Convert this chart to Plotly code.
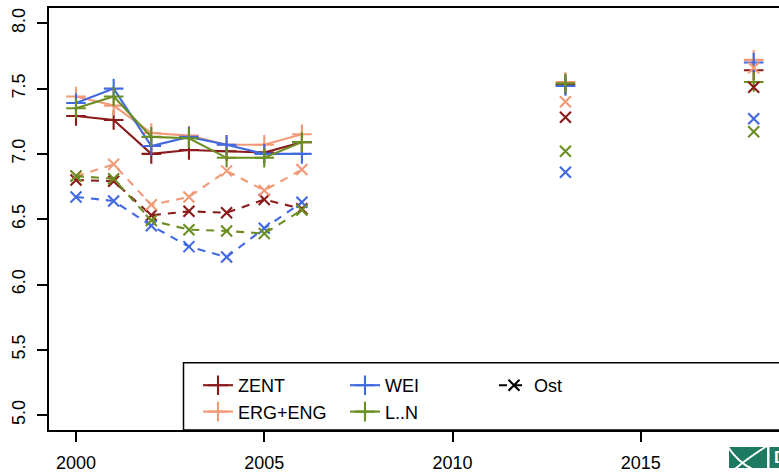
import plotly.graph_objects as go

# ---------------- data ----------------
years = list(range(2000, 2019))
early_years = [2000, 2001, 2002, 2003, 2004, 2005, 2006]
late_years = [2013, 2018]

series_names = ["ZENT", "ERG+ENG", "WEI", "L..N"]
series_colors = ["#8B1A1A", "#F29A78", "#4169E1", "#6B8E23"]

# West (solid line, "+" markers)
zent_west = [7.29, 7.26, 7.00, 7.03, 7.02, 7.01, 7.09]
erg_west = [7.44, 7.37, 7.16, 7.14, 7.07, 7.07, 7.15]
wei_west = [7.39, 7.50, 7.06, 7.13, 7.07, 7.00, 7.00]
ln_west = [7.35, 7.44, 7.13, 7.12, 6.97, 6.97, 7.09]
zent_west_late = [7.53, 7.64]
erg_west_late = [7.55, 7.72]
wei_west_late = [7.52, 7.70]
ln_west_late = [7.54, 7.55]

# Ost (dashed line, "x" markers)
zent_ost = [6.80, 6.79, 6.53, 6.56, 6.55, 6.65, 6.58]
erg_ost = [6.83, 6.92, 6.61, 6.67, 6.87, 6.72, 6.88]
wei_ost = [6.67, 6.64, 6.45, 6.29, 6.21, 6.43, 6.63]
ln_ost = [6.83, 6.81, 6.49, 6.42, 6.41, 6.39, 6.57]
zent_ost_late = [7.28, 7.51]
erg_ost_late = [7.40, 7.66]
wei_ost_late = [6.86, 7.27]
ln_ost_late = [7.02, 7.17]

west = [(zent_west, zent_west_late), (erg_west, erg_west_late),
        (wei_west, wei_west_late), (ln_west, ln_west_late)]
ost = [(zent_ost, zent_ost_late), (erg_ost, erg_ost_late),
       (wei_ost, wei_ost_late), (ln_ost, ln_ost_late)]

x_ticks = [2000, 2005, 2010, 2015]
y_ticks = [5.0, 5.5, 6.0, 6.5, 7.0, 7.5, 8.0]


def full(early, late):
    d = dict(zip(early_years, early))
    d.update(zip(late_years, late))
    return [d.get(y) for y in years]


FONT = "Liberation Sans, Arial, sans-serif"
W, H = 779, 472
ML, MR, MT, MB = 49, 0, 8, 42
PW, PH = W - ML - MR, H - MT - MB


def px_x(p):
    return (p - ML) / PW


def px_y(p):
    return (H - MB - p) / PH


fig = go.Figure()

legend_of = {"ZENT": "legend", "ERG+ENG": "legend", "WEI": "legend2", "L..N": "legend2"}

for name, color, (e, l) in zip(series_names, series_colors, west):
    fig.add_trace(go.Scatter(
        x=years, y=full(e, l), mode="lines+markers", name=name,
        line=dict(color=color, width=2.1),
        marker=dict(symbol="cross-thin", size=14, line=dict(color=color, width=2.1)),
        connectgaps=False, legend=legend_of[name], cliponaxis=False))

for name, color, (e, l) in zip(series_names, series_colors, ost):
    fig.add_trace(go.Scatter(
        x=years, y=full(e, l), mode="lines+markers", name=name + " Ost",
        line=dict(color=color, width=2.1, dash="8px,7px"),
        marker=dict(symbol="x-thin", size=11, line=dict(color=color, width=2.1)),
        connectgaps=False, showlegend=False, cliponaxis=False))

# legend-only entry for the Ost line style
fig.add_trace(go.Scatter(
    x=[None], y=[None], mode="lines+markers", name="Ost",
    line=dict(color="black", width=2.1, dash="8px,7px"),
    marker=dict(symbol="x-thin", size=11, line=dict(color="black", width=2.1)),
    legend="legend3"))

x0 = 2000 - (76 - ML) / 37.65
x1 = 2000 + (W - MR - 76) / 37.65
y1 = 8 + (23.3 - MT) / 130.6
y0 = y1 - PH / 130.6

legend_common = dict(font=dict(family=FONT, size=18, color="black"),
                     bgcolor="rgba(0,0,0,0)", borderwidth=0,
                     orientation="v", xanchor="left", yanchor="top",
                     tracegroupgap=0)

fig.update_layout(
    width=W, height=H,
    margin=dict(l=ML, r=MR, t=MT, b=MB, autoexpand=False),
    paper_bgcolor="white", plot_bgcolor="white",
    font=dict(family=FONT, size=18, color="black"),
    xaxis=dict(range=[x0, x1], tickvals=x_ticks, ticktext=[str(v) for v in x_ticks],
               showgrid=False, zeroline=False, showline=True, linecolor="black",
               linewidth=1.5, mirror=True, ticks="outside", ticklen=10, tickwidth=1.5,
               tickcolor="black", ticklabelstandoff=6, automargin=False,
               tickfont=dict(family=FONT, size=18, color="black")),
    yaxis=dict(range=[y0, y1], tickvals=y_ticks, ticktext=[f"{v:.1f}" for v in y_ticks],
               showgrid=False, zeroline=False, showline=True, linecolor="black",
               linewidth=1.5, mirror=False, ticks="outside", ticklen=10, tickwidth=1.5,
               tickcolor="black", tickangle=-90, ticklabelstandoff=5, automargin=False,
               tickfont=dict(family=FONT, size=18, color="black")),
    legend=dict(x=px_x(198), y=px_y(367), **legend_common),
    legend2=dict(x=px_x(345), y=px_y(367), **legend_common),
    legend3=dict(x=px_x(494), y=px_y(367), **legend_common),
    showlegend=True,
)

# legend frame (extends past the right edge, as in the reference)
fig.add_shape(type="rect", xref="paper", yref="paper",
              x0=px_x(183.5), x1=px_x(W + 20), y0=0, y1=px_y(362.7),
              line=dict(color="black", width=1.5), fillcolor="rgba(0,0,0,0)")

# logo (partially cut at the bottom right)
TEAL = "#1B7A60"
fig.add_shape(type="rect", xref="paper", yref="paper",
              x0=px_x(729), x1=px_x(767), y0=px_y(468), y1=px_y(447),
              line=dict(width=0), fillcolor=TEAL)
fig.add_shape(type="rect", xref="paper", yref="paper",
              x0=px_x(769.5), x1=px_x(W + 10), y0=px_y(468), y1=px_y(447),
              line=dict(width=0), fillcolor=TEAL)
fig.add_shape(type="path", xref="paper", yref="paper",
              path=f"M {px_x(728)},{px_y(447)} Q {px_x(738)},{px_y(462)} {px_x(752)},{px_y(469)}",
              line=dict(color="white", width=2))
fig.add_shape(type="path", xref="paper", yref="paper",
              path=f"M {px_x(767)},{px_y(446)} Q {px_x(748)},{px_y(458)} {px_x(735)},{px_y(469)}",
              line=dict(color="white", width=2))
fig.add_annotation(xref="paper", yref="paper", x=px_x(772), y=px_y(457.5),
                   text="<b>D</b>", showarrow=False, xanchor="left", yanchor="middle",
                   font=dict(family=FONT, size=17, color="white"))

fig.write_html("out.html", config={"displayModeBar": False},
               post_script="document.body.style.margin='0';document.body.style.padding='0';")
